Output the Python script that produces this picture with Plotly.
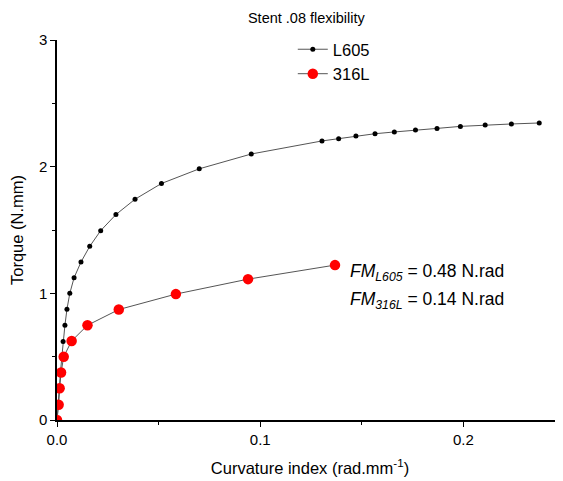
import plotly.graph_objects as go

# --- datos ---
l605_x = [0.0, 0.0005, 0.001, 0.0017, 0.0024, 0.003, 0.0039, 0.0049, 0.0063,
          0.0084, 0.0118, 0.0161, 0.0215, 0.029, 0.0384, 0.0514, 0.070, 0.0956,
          0.1304, 0.1386, 0.1471, 0.1565, 0.166, 0.1764, 0.187, 0.1985, 0.2107,
          0.2236, 0.2373]
l605_y = [0.0, 0.125, 0.25, 0.375, 0.5, 0.62, 0.748, 0.875, 1.0,
          1.123, 1.247, 1.371, 1.495, 1.622, 1.743, 1.867, 1.983, 2.10,
          2.203, 2.221, 2.242, 2.26, 2.274, 2.29, 2.302, 2.318, 2.329,
          2.337, 2.345]

s316_x = [0.0, 0.0008, 0.0013, 0.002, 0.0033, 0.0072, 0.015, 0.0304, 0.0585, 0.094, 0.1368]
s316_y = [0.0, 0.12, 0.25, 0.375, 0.5, 0.624, 0.748, 0.872, 0.994, 1.112, 1.223]

fm_labels = ["<i>FM</i><sub><i>L605</i></sub> = 0.48 N.rad",
             "<i>FM</i><sub><i>316L</i></sub> = 0.14 N.rad"]

fuente = "Liberation Sans, Arial, sans-serif"

fig = go.Figure()
fig.add_trace(go.Scatter(x=l605_x, y=l605_y, mode="lines+markers", name="L605",
                         line=dict(color="#555555", width=1),
                         marker=dict(color="black", size=5)))
fig.add_trace(go.Scatter(x=s316_x, y=s316_y, mode="lines+markers", name="316L",
                         line=dict(color="#555555", width=1),
                         marker=dict(color="#ff0000", size=10.5)))

for i, txt in enumerate(fm_labels):
    fig.add_annotation(x=0.143, y=1.165 - 0.222 * i, xref="x", yref="y", text=txt,
                       showarrow=False, xanchor="left", yanchor="middle",
                       font=dict(size=17.5, color="black", family=fuente))

# la pagina tiene un margen de 8px en el body: se compensa en los margenes
fig.update_layout(
    width=563, height=481,
    margin=dict(l=49, r=8, t=32, b=69, autoexpand=False),
    plot_bgcolor="white", paper_bgcolor="white",
    font=dict(family=fuente, size=15, color="black"),
    title=dict(text="Stent .08 flexibility", x=0.53, xanchor="center", y=0.98,
               yanchor="middle", font=dict(size=14.5)),
    legend=dict(x=0.466, y=1.021, xanchor="left", yanchor="top",
                bgcolor="rgba(0,0,0,0)", font=dict(size=16.5), tracegroupgap=0,
                itemwidth=30),
    showlegend=True,
)
fig.update_xaxes(range=[0, 0.249], dtick=0.1, tickformat=".1f", showgrid=False,
                 zeroline=False, showline=True, linecolor="black", linewidth=1.5,
                 ticks="outside", ticklen=5, tickcolor="black", automargin=False,
                 minor=dict(dtick=0.05, ticks="outside", ticklen=3, tickcolor="black"),
                 title=dict(text="Curvature index (rad.mm<sup>-1</sup>)", font=dict(size=16.5),
                            standoff=16))
fig.update_yaxes(range=[0, 3], dtick=1, showgrid=False, zeroline=False,
                 showline=True, linecolor="black", linewidth=1.5,
                 ticks="outside", ticklen=5, tickcolor="black", automargin=False,
                 minor=dict(dtick=0.5, ticks="outside", ticklen=3, tickcolor="black"),
                 title=dict(text="Torque (N.mm)", font=dict(size=16.5), standoff=14))

fig.write_html("out.html")
